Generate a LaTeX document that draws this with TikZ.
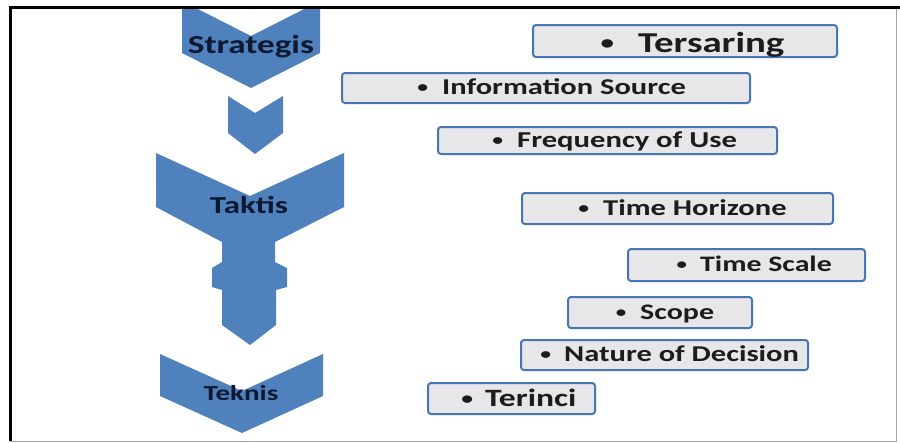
\documentclass[tikz,border=0pt]{standalone}
\usepackage{fontspec}
\setmainfont{Carlito}
\usepackage{graphicx}
\definecolor{chev}{RGB}{79,129,189}
\definecolor{boxfill}{RGB}{231,231,233}
\definecolor{boxline}{RGB}{72,118,180}
\definecolor{ink}{RGB}{28,28,28}
\definecolor{navy}{RGB}{14,24,48}
\newcommand{\sxtext}[2]{\scalebox{1.35}[1]{\fontsize{#1}{#1}\selectfont\bfseries #2}}
% small bullet hanging to the left of the text: #1 bullet size, #2 gap in em
\newcommand{\smbul}[2]{\llap{\raisebox{0.08em}{\fontsize{#1}{#1}\selectfont •}\hspace{#2em}}}
\tikzset{
  boxst/.style={draw=boxline, line width=2pt, fill=boxfill, rounded corners=3pt, inner sep=0pt},
  boxtxt/.style={anchor=base west, inner sep=0pt, text=ink},
  chevtxt/.style={anchor=base, inner sep=0pt, text=navy},
  chevshape/.style={fill=chev}
}
\begin{document}
\begin{tikzpicture}[x=1pt,y=-1pt]
\useasboundingbox (0,0) rectangle (900,442);
\fill[white] (0,0) rectangle (900,442);
% chevrons
\begin{scope}
\clip (0,8) rectangle (900,442);
\fill[chevshape] (182,1)--(251,36)--(320,1)--(320,53)--(251,88)--(182,53)--cycle;
\end{scope}
\fill[chevshape] (228,96)--(255,113)--(283,96)--(283,133)--(255,154)--(228,133)--cycle;
\fill[chevshape] (156,153)--(250,196)--(344,153)--(344,207)--(275,242)--(275,262)--(287,268)--(287,287)--(276,290)--(276,325)--(250,345)--(222,325)--(222,290)--(212,287)--(212,268)--(222,262)--(222,242)--(156,207)--cycle;
\fill[chevshape] (160,354)--(242,391)--(323,354)--(323,396)--(242,433)--(160,396)--cycle;
\node[chevtxt] (strategis) at (251,53) {\sxtext{26}{Strategis}};
\node[chevtxt] (taktis) at (249,213) {\sxtext{24.4}{Taktis}};
\node[chevtxt] (teknis) at (241,400) {\sxtext{21.5}{Teknis}};
% boxes
\node[boxst, minimum width=304pt, minimum height=32pt] (b1) at (685,41) {};
\node[boxst, minimum width=408pt, minimum height=30pt] (b2) at (546,88) {};
\node[boxst, minimum width=339pt, minimum height=27pt] (b3) at (607.5,140.5) {};
\node[boxst, minimum width=311pt, minimum height=31pt] (b4) at (677.5,208.5) {};
\node[boxst, minimum width=237pt, minimum height=32pt] (b5) at (746.5,265) {};
\node[boxst, minimum width=184pt, minimum height=31pt] (b6) at (660,312.5) {};
\node[boxst, minimum width=287pt, minimum height=30pt] (b7) at (664.5,355) {};
\node[boxst, minimum width=167pt, minimum height=31pt] (b8) at (511.5,398.5) {};
\node[boxtxt] (t1) at (638,52) {\sxtext{28.8}{\smbul{20}{0.62}Tersaring}};
\node[boxtxt] (t2) at (442,94) {\sxtext{22.6}{\smbul{16}{0.46}Information Source}};
\node[boxtxt] (t3) at (517,147) {\sxtext{22.7}{\smbul{16}{0.46}Frequency of Use}};
\node[boxtxt] (t4) at (603,215) {\sxtext{22.6}{\smbul{16}{0.46}Time Horizone}};
\node[boxtxt] (t5) at (700,271) {\sxtext{22.1}{\smbul{15.5}{0.44}Time Scale}};
\node[boxtxt] (t6) at (640,319) {\sxtext{22.2}{\smbul{15.5}{0.46}Scope}};
\node[boxtxt] (t7) at (564,361) {\sxtext{22.6}{\smbul{16}{0.43}Nature of Decision}};
\node[boxtxt] (t8) at (485,406) {\sxtext{24.9}{\smbul{17.5}{0.36}Terinci}};
% frame
\draw[line width=1pt, gray!70] (10,441) -- (896,441) -- (896,7);
\draw[line width=3pt, black] (10.5,441) -- (10.5,7.5) -- (900,7.5);
\end{tikzpicture}
\end{document}
